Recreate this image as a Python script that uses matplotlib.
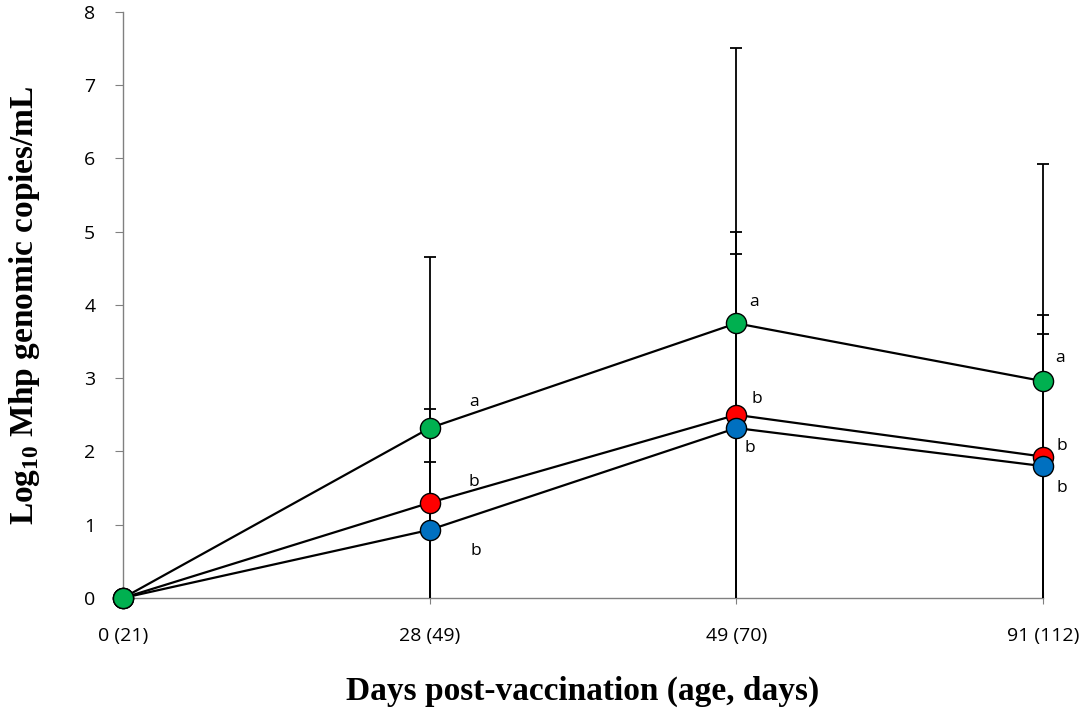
import matplotlib
matplotlib.use("Agg")
import matplotlib.pyplot as plt
import numpy as np

categories = ["0 (21)", "28 (49)", "49 (70)", "91 (112)"]
green_vals = [0.0, 2.32, 3.75, 2.96]
green_err = [0.0, 2.34, 3.76, 2.96]
red_vals = [0.0, 1.30, 2.50, 1.93]
red_err = [0.0, 1.28, 2.50, 1.93]
blue_vals = [0.0, 0.93, 2.32, 1.80]
blue_err = [0.0, 0.93, 2.38, 1.80]
green_letters = ["", "a", "a", "a"]
red_letters = ["", "b", "b", "b"]
blue_letters = ["", "b", "b", "b"]

fig = plt.figure(figsize=(10.84, 7.14), dpi=100)
ax = fig.add_axes([0.1135, 0.1625, 0.8487, 0.8207])
x = np.arange(len(categories))

series = [
    (red_vals, red_err, "#FF0000", 3),
    (blue_vals, blue_err, "#0070C0", 4),
    (green_vals, green_err, "#00B050", 5),
]
for vals, err, col, z in series:
    v = np.array(vals)
    e = np.array(err)
    lower = np.minimum(e, v)  # bars stop at the axis
    eb = ax.errorbar(x, v, yerr=[lower, e], fmt="none", ecolor="black", elinewidth=1.3,
                     capsize=4, capthick=1.3, zorder=2)
    _, caps, bars = eb
    for c in caps:
        yd = np.asarray(c.get_ydata())
        if np.all(yd <= v + 1e-9):
            c.set_visible(False)
        c.set_clip_on(False)
    for b in bars:
        b.set_clip_on(False)
for vals, err, col, z in series:
    ax.plot(x, vals, "-", color="black", lw=1.6, marker="o", markersize=14.5,
            markerfacecolor=col, markeredgecolor="black", markeredgewidth=1.0,
            zorder=z, clip_on=False)

offsets = {
    "green": [(0, 0), (44, 26), (18, 21), (17, 23)],
    "red": [(0, 0), (44, 21), (20, 16), (19, 11)],
    "blue": [(0, 0), (46, -21), (13, -20), (19, -22)],
}
for name, vals, letters in [("green", green_vals, green_letters),
                            ("red", red_vals, red_letters),
                            ("blue", blue_vals, blue_letters)]:
    for i, (v, lt) in enumerate(zip(vals, letters)):
        if lt:
            ax.annotate(lt, (x[i], v), xytext=offsets[name][i], textcoords="offset pixels",
                        ha="center", va="center", fontsize=12.5, family="Open Sans")

ax.set_xlim(0, 3)
ax.set_ylim(0, 8)
ax.set_xticks(x)
ax.set_xticklabels(categories, fontsize=14, family="Open Sans")
ax.set_yticks(range(0, 9))
ax.set_yticklabels([str(i) for i in range(9)], fontsize=14, family="Open Sans")
for s in ["top", "right"]:
    ax.spines[s].set_visible(False)
for s in ["left", "bottom"]:
    ax.spines[s].set_color("#808080")
    ax.spines[s].set_linewidth(1.0)
    ax.spines[s].set_zorder(1)
ax.tick_params(axis="y", direction="out", length=6, color="#808080", pad=14)
ax.tick_params(axis="x", direction="inout", length=8, color="#808080", pad=17)

ax.set_ylabel(r"Log$_{\mathregular{10}}$ Mhp genomic copies/mL", fontsize=24,
              fontweight="bold", family="Liberation Serif", labelpad=30)
ax.set_xlabel("Days post-vaccination (age, days)", fontsize=24, fontweight="bold",
              family="Liberation Serif", labelpad=22)

fig.savefig("out.png", dpi=100)
